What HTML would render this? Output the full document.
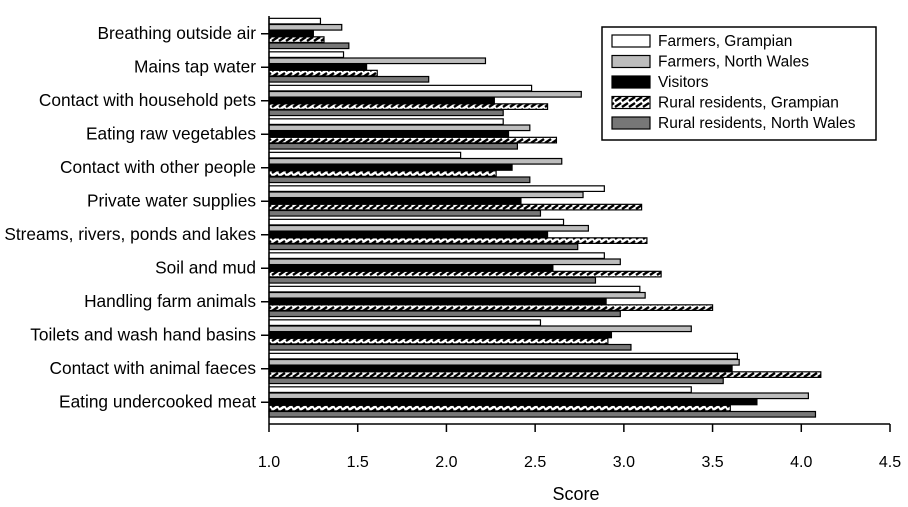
<!DOCTYPE html>
<html><head><meta charset="utf-8">
<style>
html,body{margin:0;padding:0;background:#fff;}
svg{display:block;}
text{font-family:"Liberation Sans",Arial,Helvetica,sans-serif;}
</style></head>
<body>
<svg id="chart" width="908" height="507" viewBox="0 0 908 507" xmlns="http://www.w3.org/2000/svg" font-family="Liberation Sans, Arial, sans-serif">
<defs>
<pattern id="hatch" patternUnits="userSpaceOnUse" width="14" height="6">
<rect width="14" height="6" fill="#fff"/>
<path d="M-1,5 L5,1 M6,5 L12,1 M13,5 L19,1" stroke="#000" stroke-width="2.4"/>
</pattern>
</defs>
<g id="bars"></g>
<g id="axes"></g>
<g id="legend"></g>
</svg>
<script>
const categories = ["Breathing outside air","Mains tap water","Contact with household pets","Eating raw vegetables","Contact with other people","Private water supplies","Streams, rivers, ponds and lakes","Soil and mud","Handling farm animals","Toilets and wash hand basins","Contact with animal faeces","Eating undercooked meat"];
const seriesNames = ["Farmers, Grampian","Farmers, North Wales","Visitors","Rural residents, Grampian","Rural residents, North Wales"];
const farmersGrampian = [1.29,1.42,2.48,2.32,2.08,2.89,2.66,2.89,3.09,2.53,3.64,3.38];
const farmersNorthWales = [1.41,2.22,2.76,2.47,2.65,2.77,2.80,2.98,3.12,3.38,3.65,4.04];
const visitors = [1.25,1.55,2.27,2.35,2.37,2.42,2.57,2.60,2.90,2.93,3.61,3.75];
const ruralGrampian = [1.31,1.61,2.57,2.62,2.28,3.10,3.13,3.21,3.50,2.91,4.11,3.60];
const ruralNorthWales = [1.45,1.90,2.32,2.40,2.47,2.53,2.74,2.84,2.98,3.04,3.56,4.08];
const xTicks = ["1.0","1.5","2.0","2.5","3.0","3.5","4.0","4.5"];
const series = [farmersGrampian,farmersNorthWales,visitors,ruralGrampian,ruralNorthWales];
const fills = ["#fff","#bdbdbd","#000","url(#hatch)","#777"];
const NS="http://www.w3.org/2000/svg";
const FONT="Liberation Sans, Arial, sans-serif";
const x0=269, xMin=1.0, xMax=4.5, plotRight=890, plotTop=16, plotBottom=424;
function xs(v){return x0+(v-xMin)/(xMax-xMin)*(plotRight-x0);}
const groupH=(plotBottom-plotTop-6)/categories.length;
function yc(i){return plotTop+1+groupH*(i+0.5);}
function mk(tag,attrs,parent){const e=document.createElementNS(NS,tag);for(const k in attrs)e.setAttribute(k,attrs[k]);parent.appendChild(e);return e;}
const bars=document.getElementById('bars'),axes=document.getElementById('axes'),legend=document.getElementById('legend');
const barH=groupH*0.92/5;
categories.forEach((c,i)=>{
  const top=yc(i)-barH*2.5;
  series.forEach((s,j)=>{
    const r=mk('rect',{x:x0,y:top+j*barH,width:xs(s[i])-x0,height:barH-0.6,fill:fills[j],stroke:'#000','stroke-width':1.2},bars);
    
    
  });
  const t=mk('text',{x:256,y:yc(i)+5,'text-anchor':'end','font-size':17.3,'font-family':FONT,fill:'#000'},axes);
  t.textContent=c;
  
  
  mk('line',{x1:x0-8,x2:x0,y1:yc(i),y2:yc(i),stroke:'#000','stroke-width':1.5},axes);
});
mk('line',{x1:x0,x2:x0,y1:plotTop,y2:plotBottom,stroke:'#000','stroke-width':1.5},axes);
mk('line',{x1:x0,x2:plotRight,y1:plotBottom,y2:plotBottom,stroke:'#000','stroke-width':1.5},axes);
xTicks.forEach(t=>{
  const v=parseFloat(t),x=xs(v);
  mk('line',{x1:x,x2:x,y1:plotBottom,y2:plotBottom+8,stroke:'#000','stroke-width':1.5},axes);
  const tx=mk('text',{x:x,y:467,'text-anchor':'middle','font-size':16,'font-family':FONT,fill:'#000'},axes);
  tx.textContent=t;
  
  
});
const xt=mk('text',{x:576,y:500,'text-anchor':'middle','font-size':18,'font-family':FONT,fill:'#000'},axes);
xt.textContent='Score';


const lb=mk('rect',{x:602,y:27,width:274,height:113,fill:'#fff',stroke:'#000','stroke-width':1.5},legend);


seriesNames.forEach((n,j)=>{
  const y=41+j*20.5;
  const sw=mk('rect',{x:612,y:y-6,width:38,height:12,fill:fills[j],stroke:'#000','stroke-width':1.2},legend);
  
  
  const t=mk('text',{x:658,y:y+5,'font-size':15.5,'font-family':FONT,fill:'#000'},legend);
  t.textContent=n;
  
  
});
</script>
</body></html>
